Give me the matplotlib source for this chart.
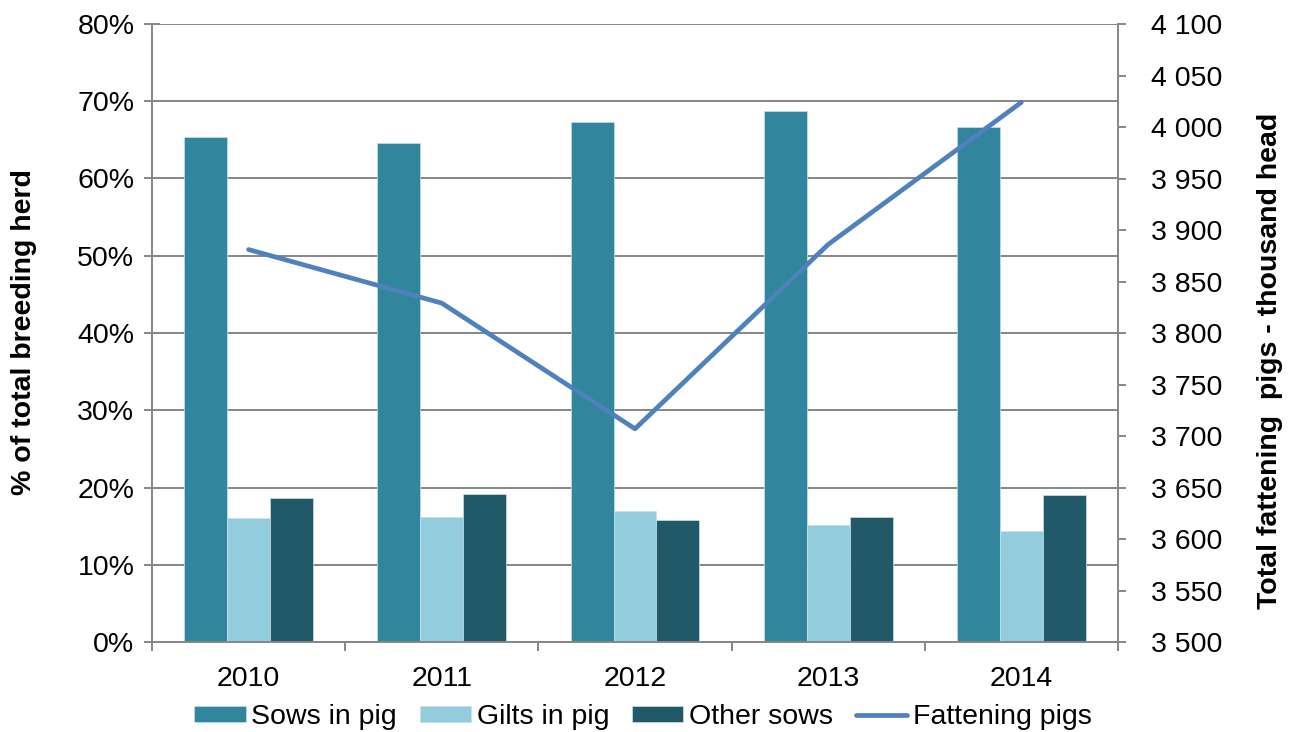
import matplotlib.pyplot as plt
import numpy as np
from matplotlib.ticker import FuncFormatter, MultipleLocator, FixedLocator

plt.rcParams['font.family'] = ['Liberation Sans', 'DejaVu Sans']

## ------------------------------------------------------ DATA ------------------------------------------------------
years = ["2010", "2011", "2012", "2013", "2014"]
sows_in_pig = [65.4, 64.6, 67.3, 68.7, 66.7]
gilts_in_pig = [16.0, 16.2, 16.9, 15.1, 14.4]
other_sows = [18.6, 19.2, 15.8, 16.2, 19.0]
fattening_pigs = [3881, 3829, 3707, 3886, 4024]

## ------------------------------------------------------ FIGURE ----------------------------------------------------
GRID = "#868686"
FS = 20.5
W, H = 1289, 732
fig = plt.figure(figsize=(W / 100, H / 100), dpi=100)
ax = fig.add_axes([152 / W, (H - 642) / H, (1118 - 152) / W, (642 - 24) / H])

x = np.arange(len(years))
w = 1 / 4.5
series = [("Sows in pig", sows_in_pig, "#31859C"),
          ("Gilts in pig", gilts_in_pig, "#93CDDD"),
          ("Other sows", other_sows, "#215968")]
handles = []
for i, (name, vals, col) in enumerate(series):
    b = ax.bar(x + (i - 1) * w, vals, w, color=col, edgecolor="#C8E2EA", linewidth=0.5,
               label=name, zorder=2)
    handles.append(b)

ax.set_xlim(-0.5, len(years) - 0.5)
ax.set_ylim(0, 80)
ax.yaxis.set_major_locator(MultipleLocator(10))
ax.yaxis.set_major_formatter(FuncFormatter(lambda v, p: f"{v:.0f}%"))
ax.grid(axis="y", color=GRID, linewidth=1.4, zorder=0)
ax.set_axisbelow(True)

ax.set_xticks(x)
ax.set_xticklabels(years)
ax.xaxis.set_minor_locator(FixedLocator(np.arange(-0.5, len(years), 1)))
ax.tick_params(axis="x", which="major", length=0, pad=17, labelsize=FS)
ax.tick_params(axis="x", which="minor", length=6.5, width=1.4, color=GRID, direction="out")
ax.tick_params(axis="y", length=11.5, width=1.4, color=GRID, direction="inout", labelsize=FS, pad=7)

for s in ["top", "right"]:
    ax.spines[s].set_visible(False)
for s in ["left", "bottom"]:
    ax.spines[s].set_color(GRID)
    ax.spines[s].set_linewidth(1.4)

ax2 = ax.twinx()
line, = ax2.plot(x, fattening_pigs, color="#4F81BD", linewidth=3.4, solid_capstyle="round",
                 label="Fattening pigs", zorder=3)
ax2.set_ylim(3500, 4100)
ax2.yaxis.set_major_locator(MultipleLocator(50))
ax2.yaxis.set_major_formatter(FuncFormatter(lambda v, p: f"{int(v):,}".replace(",", " ")))
ax2.tick_params(axis="y", length=5.8, width=1.4, color=GRID, direction="out", labelsize=FS, pad=18)
for s in ["top", "left", "bottom"]:
    ax2.spines[s].set_visible(False)
ax2.spines["right"].set_color(GRID)
ax2.spines["right"].set_linewidth(1.4)

fig.text(24 / W, 1 - 332 / H, "% of total breeding herd", rotation=90, ha="center", va="center",
         fontsize=FS, fontweight="bold")
fig.text(1270 / W, 1 - 361 / H, "Total fattening  pigs - thousand head", rotation=90,
         ha="center", va="center", fontsize=FS, fontweight="bold")

fig.legend(handles + [line], [h.get_label() for h in handles] + [line.get_label()],
           loc="center", bbox_to_anchor=(643 / W, 1 - 717 / H), ncol=4, frameon=False,
           fontsize=FS, handlelength=1.8, handleheight=0.53, handletextpad=0.2,
           columnspacing=0.8, borderpad=0)

fig.savefig("out.png", dpi=100)
